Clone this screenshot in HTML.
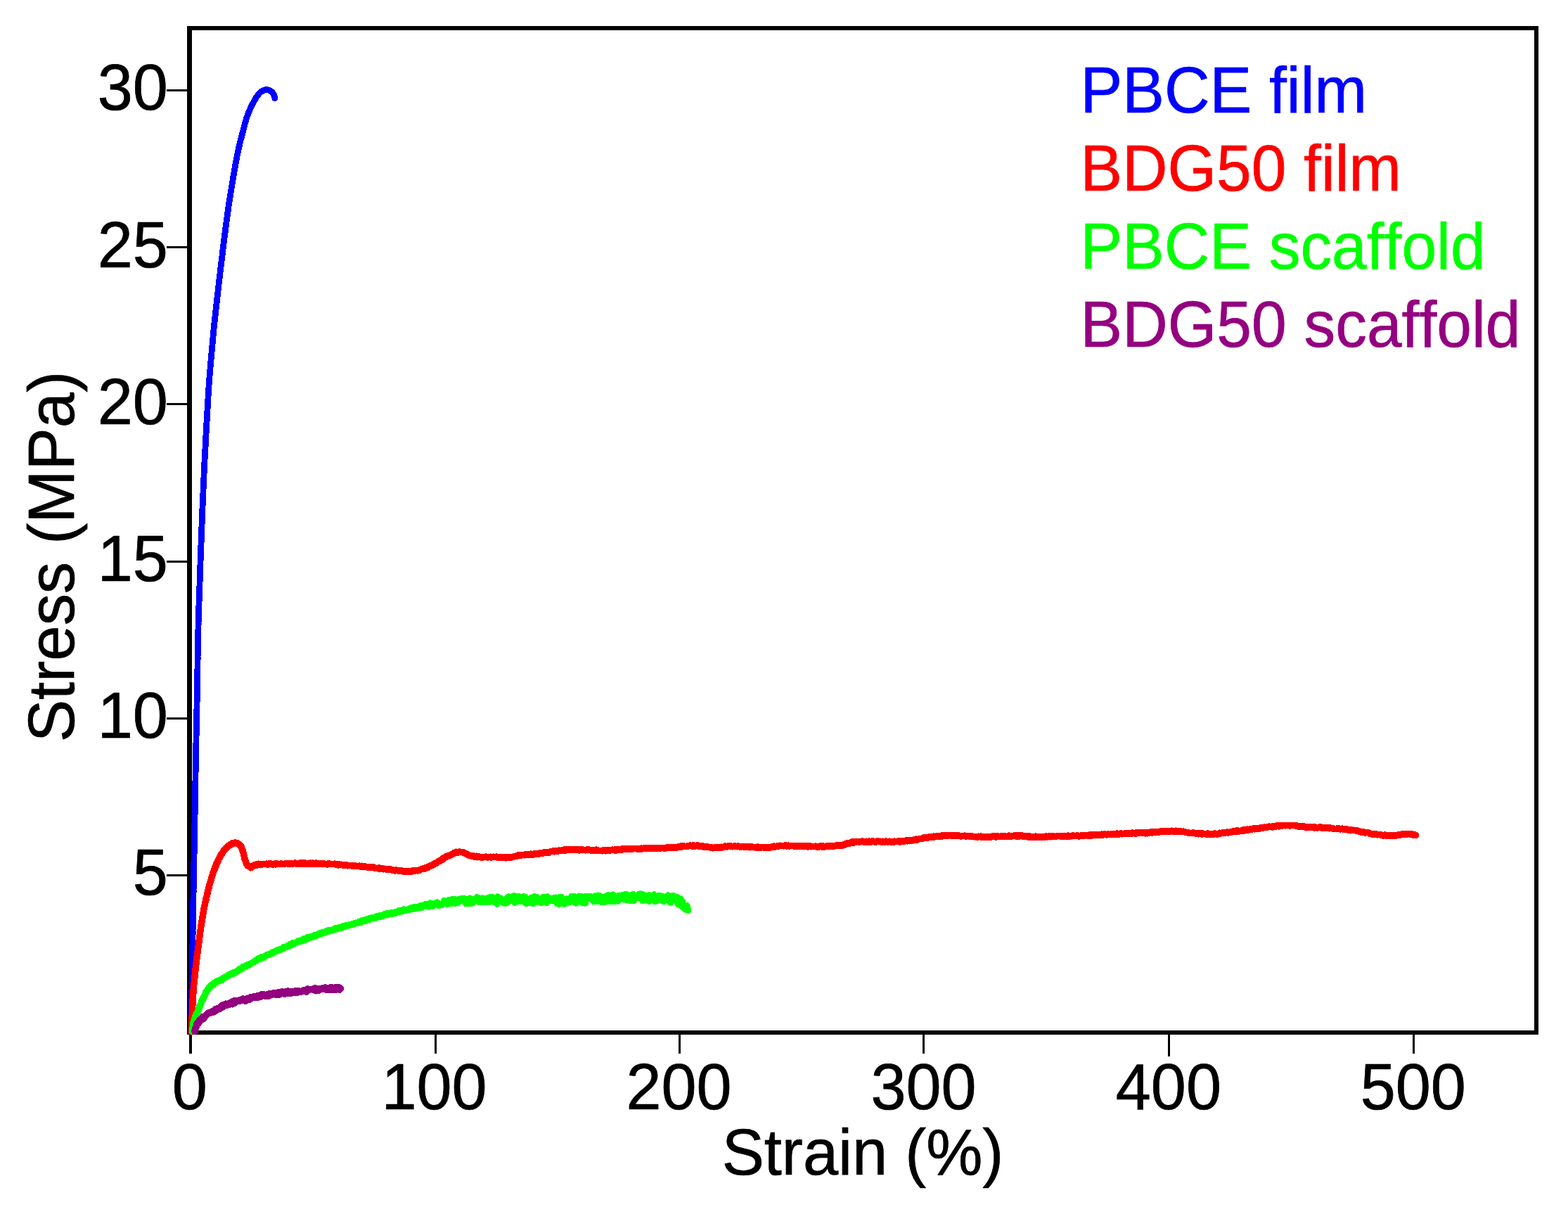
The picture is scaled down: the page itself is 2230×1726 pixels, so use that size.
<!DOCTYPE html>
<html lang="en"><head><meta charset="utf-8"><title>Stress-strain curves</title>
<style>
html,body{margin:0;padding:0;background:#fff;}
body{width:2230px;height:1726px;overflow:hidden;}
svg{display:block;}
text{font-family:"Liberation Sans",sans-serif;font-size:90px;stroke-width:0.7px;stroke-linejoin:round;font-kerning:none;font-variant-ligatures:none;white-space:pre;}
.c{fill:none;stroke-linejoin:round;stroke-linecap:round;}
</style></head><body>
<svg width="2230" height="1726" viewBox="0 0 2230 1726">
<rect x="0" y="0" width="2230" height="1726" fill="#fff"/>

<g shape-rendering="crispEdges">
<rect x="266" y="37" width="1922" height="1434" fill="#000"/>
<rect x="273" y="43" width="1909" height="1422" fill="#fff"/>
<rect x="237" y="1243" width="30" height="3" fill="#000"/>
<rect x="237" y="1020" width="30" height="3" fill="#000"/>
<rect x="237" y="797" width="30" height="3" fill="#000"/>
<rect x="237" y="573" width="30" height="3" fill="#000"/>
<rect x="237" y="350" width="30" height="3" fill="#000"/>
<rect x="237" y="127" width="30" height="3" fill="#000"/>
<rect x="269" y="1470" width="4" height="28" fill="#000"/>
<rect x="618" y="1470" width="3" height="28" fill="#000"/>
<rect x="965" y="1470" width="3" height="28" fill="#000"/>
<rect x="1312" y="1470" width="3" height="28" fill="#000"/>
<rect x="1661" y="1470" width="3" height="32" fill="#000"/>
<rect x="2009" y="1470" width="3" height="28" fill="#000"/>
</g>
<text transform="translate(188.75,1272.30) scale(1,1.04)" stroke="#000">5</text>
<text transform="translate(138.69,1049.10) scale(1,1.04)" stroke="#000">10</text>
<text transform="translate(138.69,825.90) scale(1,1.04)" stroke="#000">15</text>
<text transform="translate(138.69,602.70) scale(1,1.04)" stroke="#000">20</text>
<text transform="translate(138.69,379.50) scale(1,1.04)" stroke="#000">25</text>
<text transform="translate(138.69,156.30) scale(1,1.04)" stroke="#000">30</text>
<text transform="translate(244.87,1577.3) scale(1,1.04)" stroke="#000">0</text>
<text transform="translate(542.52,1577.3) scale(1,1.04)" stroke="#000">100</text>
<text transform="translate(890.52,1577.3) scale(1,1.04)" stroke="#000">200</text>
<text transform="translate(1238.52,1577.3) scale(1,1.04)" stroke="#000">300</text>
<text transform="translate(1586.82,1577.3) scale(1,1.04)" stroke="#000">400</text>
<text transform="translate(1934.72,1577.3) scale(1,1.04)" stroke="#000">500</text>
<text transform="translate(1026.71,1669.60) scale(1.0015,1.02)" stroke="#000">Strain (%)</text>
<text transform="translate(105.1,1055.11) rotate(-90) scale(1.0045,1.02)" stroke="#000">Stress (MPa)</text>
<text transform="translate(1536.56,159.80) scale(0.9939,1.02)" fill="#0000ff" stroke="#0000ff">PBCE film</text>
<text transform="translate(1536.58,271.00) scale(0.9920,1.02)" fill="#ff0000" stroke="#ff0000">BDG50 film</text>
<text transform="translate(1536.57,381.90) scale(0.9930,1.02)" fill="#00ff00" stroke="#00ff00">PBCE scaffold</text>
<text transform="translate(1536.57,493.00) scale(0.9933,1.02)" fill="#940080" stroke="#940080">BDG50 scaffold</text>
<g shape-rendering="crispEdges">
<path class="c" d="M271.8,1467.0 L271.8,1465.0 L271.9,1463.0 L271.9,1461.0 L271.9,1459.0 L272.0,1457.0 L272.0,1455.0 L272.1,1453.0 L272.1,1451.0 L272.1,1449.0 L272.2,1446.9 L272.2,1444.9 L272.2,1442.9 L272.3,1440.9 L272.3,1438.9 L272.3,1436.9 L272.4,1434.9 L272.4,1432.9 L272.5,1430.9 L272.5,1428.9 L272.5,1426.9 L272.6,1424.9 L272.6,1422.9 L272.6,1420.9 L272.7,1418.9 L272.7,1416.9 L272.7,1414.9 L272.8,1412.9 L272.8,1410.9 L272.8,1408.9 L272.9,1406.8 L272.9,1404.8 L273.0,1402.8 L273.0,1400.8 L273.0,1398.8 L273.1,1396.8 L273.1,1394.8 L273.1,1392.8 L273.1,1390.8 L273.2,1388.8 L273.2,1386.8 L273.2,1384.8 L273.3,1382.8 L273.3,1380.8 L273.3,1378.8 L273.4,1376.8 L273.4,1374.8 L273.4,1372.8 L273.5,1370.8 L273.5,1368.7 L273.5,1366.7 L273.5,1364.7 L273.6,1362.7 L273.6,1360.7 L273.6,1358.7 L273.7,1356.7 L273.7,1354.7 L273.7,1352.7 L273.7,1350.7 L273.8,1348.7 L273.8,1346.7 L273.8,1344.7 L273.9,1342.7 L273.9,1340.7 L273.9,1338.7 L273.9,1336.7 L274.0,1334.7 L274.0,1332.7 L274.0,1330.6 L274.1,1328.6 L274.1,1326.6 L274.1,1324.6 L274.1,1322.6 L274.2,1320.6 L274.2,1318.6 L274.2,1316.6 L274.3,1314.6 L274.3,1312.6 L274.3,1310.6 L274.4,1308.6 L274.4,1306.6 L274.4,1304.6 L274.5,1302.6 L274.5,1300.6 L274.5,1298.6 L274.6,1296.6 L274.6,1294.6 L274.6,1292.5 L274.7,1290.5 L274.7,1288.5 L274.7,1286.5 L274.8,1284.5 L274.8,1282.5 L274.8,1280.5 L274.9,1278.5 L274.9,1276.5 L274.9,1274.5 L275.0,1272.5 L275.0,1270.5 L275.1,1268.5 L275.1,1266.5 L275.1,1264.5 L275.2,1262.5 L275.2,1260.5 L275.2,1258.5 L275.3,1256.5 L275.3,1254.4 L275.3,1252.4 L275.4,1250.4 L275.4,1248.4 L275.5,1246.4 L275.5,1244.4 L275.5,1242.4 L275.6,1240.4 L275.6,1238.4 L275.7,1236.4 L275.7,1234.4 L275.7,1232.4 L275.8,1230.4 L275.8,1228.4 L275.8,1226.4 L275.9,1224.4 L275.9,1222.4 L276.0,1220.4 L276.0,1218.4 L276.0,1216.4 L276.1,1214.3 L276.1,1212.3 L276.1,1210.3 L276.2,1208.3 L276.2,1206.3 L276.3,1204.3 L276.3,1202.3 L276.3,1200.3 L276.4,1198.3 L276.4,1196.3 L276.4,1194.3 L276.5,1192.3 L276.5,1190.3 L276.6,1188.3 L276.6,1186.3 L276.6,1184.3 L276.7,1182.3 L276.7,1180.3 L276.7,1178.3 L276.8,1176.2 L276.8,1174.2 L276.8,1172.2 L276.9,1170.2 L276.9,1168.2 L276.9,1166.2 L277.0,1164.2 L277.0,1162.2 L277.0,1160.2 L277.1,1158.2 L277.1,1156.2 L277.1,1154.2 L277.2,1152.2 L277.2,1150.2 L277.2,1148.2 L277.3,1146.2 L277.3,1144.2 L277.3,1142.2 L277.4,1140.2 L277.4,1138.2 L277.4,1136.1 L277.5,1134.1 L277.5,1132.1 L277.5,1130.1 L277.6,1128.1 L277.6,1126.1 L277.6,1124.1 L277.7,1122.1 L277.7,1120.1 L277.7,1118.1 L277.8,1116.1 L277.8,1114.1 L277.8,1112.1 L277.9,1110.1 L277.9,1108.1 L277.9,1106.1 L278.0,1104.1 L278.0,1102.1 L278.0,1100.1 L278.1,1098.0 L278.1,1096.0 L278.1,1094.0 L278.2,1092.0 L278.2,1090.0 L278.3,1088.0 L278.3,1086.0 L278.3,1084.0 L278.4,1082.0 L278.4,1080.0 L278.4,1078.0 L278.5,1076.0 L278.5,1074.0 L278.6,1072.0 L278.6,1070.0 L278.6,1068.0 L278.7,1066.0 L278.7,1064.0 L278.7,1062.0 L278.8,1060.0 L278.8,1057.9 L278.9,1055.9 L278.9,1053.9 L278.9,1051.9 L279.0,1049.9 L279.0,1047.9 L279.1,1045.9 L279.1,1043.9 L279.2,1041.9 L279.2,1039.9 L279.2,1037.9 L279.3,1035.9 L279.3,1033.9 L279.4,1031.9 L279.4,1029.9 L279.4,1027.9 L279.5,1025.9 L279.5,1023.9 L279.6,1021.9 L279.6,1019.8 L279.6,1017.8 L279.7,1015.8 L279.7,1013.8 L279.8,1011.8 L279.8,1009.8 L279.9,1007.8 L279.9,1005.8 L279.9,1003.8 L280.0,1001.8 L280.0,999.8 L280.1,997.8 L280.1,995.8 L280.1,993.8 L280.2,991.8 L280.2,989.8 L280.3,987.8 L280.3,985.8 L280.3,983.8 L280.4,981.8 L280.4,979.7 L280.4,977.7 L280.5,975.7 L280.5,973.7 L280.5,971.7 L280.6,969.7 L280.6,967.7 L280.6,965.7 L280.7,963.7 L280.7,961.7 L280.7,959.7 L280.8,957.7 L280.8,955.7 L280.8,953.7 L280.9,951.7 L280.9,949.7 L280.9,947.7 L280.9,945.7 L281.0,943.7 L281.0,941.6 L281.0,939.6 L281.1,937.6 L281.1,935.6 L281.1,933.6 L281.2,931.6 L281.2,929.6 L281.2,927.6 L281.3,925.6 L281.3,923.6 L281.3,921.6 L281.4,919.6 L281.4,917.6 L281.4,915.6 L281.5,913.6 L281.5,911.6 L281.5,909.6 L281.6,907.6 L281.6,905.6 L281.7,903.6 L281.7,901.5 L281.8,899.5 L281.8,897.5 L281.9,895.5 L281.9,893.5 L282.0,891.5 L282.0,889.5 L282.1,887.5 L282.1,885.5 L282.2,883.5 L282.3,881.5 L282.3,879.5 L282.4,877.5 L282.4,875.5 L282.5,873.5 L282.6,871.5 L282.6,869.5 L282.7,867.5 L282.8,865.5 L282.8,863.5 L282.9,861.5 L283.0,859.4 L283.0,857.4 L283.1,855.4 L283.2,853.4 L283.2,851.4 L283.3,849.4 L283.4,847.4 L283.4,845.4 L283.5,843.4 L283.6,841.4 L283.7,839.4 L283.7,837.4 L283.8,835.4 L283.9,833.4 L283.9,831.4 L284.0,829.4 L284.1,827.4 L284.1,825.4 L284.2,823.4 L284.3,821.4 L284.3,819.4 L284.4,817.4 L284.5,815.4 L284.5,813.4 L284.6,811.3 L284.7,809.3 L284.8,807.3 L284.8,805.3 L284.9,803.3 L285.0,801.3 L285.0,799.3 L285.1,797.3 L285.2,795.3 L285.3,793.3 L285.3,791.3 L285.4,789.3 L285.5,787.3 L285.6,785.3 L285.6,783.3 L285.7,781.3 L285.8,779.3 L285.8,777.3 L285.9,775.3 L286.0,773.3 L286.1,771.3 L286.1,769.3 L286.2,767.3 L286.3,765.3 L286.4,763.2 L286.4,761.2 L286.5,759.2 L286.6,757.2 L286.7,755.2 L286.7,753.2 L286.8,751.2 L286.9,749.2 L287.0,747.2 L287.1,745.2 L287.1,743.2 L287.2,741.2 L287.3,739.2 L287.4,737.2 L287.4,735.2 L287.5,733.2 L287.6,731.2 L287.7,729.2 L287.8,727.2 L287.8,725.2 L287.9,723.2 L288.0,721.2 L288.1,719.2 L288.2,717.2 L288.3,715.2 L288.4,713.1 L288.4,711.1 L288.5,709.1 L288.6,707.1 L288.7,705.1 L288.8,703.1 L288.9,701.1 L289.0,699.1 L289.0,697.1 L289.1,695.1 L289.2,693.1 L289.3,691.1 L289.4,689.1 L289.5,687.1 L289.6,685.1 L289.7,683.1 L289.8,681.1 L289.9,679.1 L290.0,677.1 L290.0,675.1 L290.1,673.1 L290.2,671.1 L290.3,669.1 L290.4,667.1 L290.5,665.1 L290.6,663.1 L290.7,661.1 L290.8,659.1 L290.9,657.1 L291.0,655.1 L291.1,653.0 L291.2,651.0 L291.3,649.0 L291.4,647.0 L291.5,645.0 L291.6,643.0 L291.7,641.0 L291.8,639.0 L292.0,637.0 L292.1,635.0 L292.2,633.0 L292.3,631.0 L292.4,629.0 L292.5,627.0 L292.6,625.0 L292.7,623.0 L292.8,621.0 L292.9,619.0 L293.0,617.0 L293.2,615.0 L293.3,613.0 L293.4,611.0 L293.5,609.0 L293.6,607.0 L293.7,605.0 L293.8,603.0 L293.9,601.0 L294.1,599.0 L294.2,597.0 L294.3,595.0 L294.4,593.0 L294.5,591.0 L294.6,589.0 L294.7,587.0 L294.8,585.0 L295.0,583.0 L295.1,581.0 L295.2,579.0 L295.3,577.0 L295.4,575.0 L295.5,572.9 L295.6,570.9 L295.7,568.9 L295.9,566.9 L296.0,564.9 L296.1,562.9 L296.2,560.9 L296.3,558.9 L296.5,556.9 L296.6,554.9 L296.7,552.9 L296.9,550.9 L297.0,548.9 L297.1,546.9 L297.3,544.9 L297.4,542.9 L297.6,540.9 L297.7,538.9 L297.9,536.9 L298.0,534.9 L298.2,532.9 L298.4,530.9 L298.5,528.9 L298.7,526.9 L298.9,524.9 L299.0,522.9 L299.2,520.9 L299.4,518.9 L299.6,516.9 L299.8,514.9 L299.9,513.0 L300.1,511.0 L300.3,509.0 L300.5,507.0 L300.7,505.0 L300.8,503.0 L301.0,501.0 L301.2,499.0 L301.4,497.0 L301.5,495.0 L301.7,493.0 L301.9,491.0 L302.1,489.0 L302.2,487.0 L302.4,485.0 L302.6,483.0 L302.8,481.0 L303.0,479.0 L303.2,477.0 L303.3,475.0 L303.5,473.0 L303.7,471.0 L303.9,469.0 L304.1,467.0 L304.3,465.0 L304.5,463.0 L304.7,461.0 L305.0,459.0 L305.2,457.0 L305.4,455.1 L305.6,453.1 L305.8,451.1 L306.0,449.1 L306.3,447.1 L306.5,445.1 L306.7,443.1 L306.9,441.1 L307.2,439.1 L307.4,437.1 L307.6,435.1 L307.8,433.1 L308.1,431.1 L308.3,429.1 L308.5,427.1 L308.7,425.2 L309.0,423.2 L309.2,421.2 L309.4,419.2 L309.6,417.2 L309.9,415.2 L310.1,413.2 L310.3,411.2 L310.5,409.2 L310.8,407.2 L311.0,405.2 L311.2,403.2 L311.5,401.2 L311.7,399.3 L311.9,397.3 L312.2,395.3 L312.4,393.3 L312.6,391.3 L312.9,389.3 L313.1,387.3 L313.3,385.3 L313.6,383.3 L313.8,381.3 L314.0,379.3 L314.3,377.3 L314.5,375.4 L314.7,373.4 L315.0,371.4 L315.2,369.4 L315.5,367.4 L315.7,365.4 L316.0,363.4 L316.2,361.4 L316.5,359.4 L316.7,357.4 L316.9,355.4 L317.2,353.5 L317.4,351.5 L317.7,349.5 L317.9,347.5 L318.2,345.5 L318.4,343.5 L318.7,341.5 L318.9,339.5 L319.2,337.5 L319.4,335.5 L319.7,333.6 L319.9,331.6 L320.2,329.6 L320.4,327.6 L320.7,325.6 L320.9,323.6 L321.2,321.6 L321.5,319.6 L321.7,317.6 L322.0,315.7 L322.3,313.7 L322.5,311.7 L322.8,309.7 L323.1,307.7 L323.3,305.7 L323.6,303.7 L323.9,301.7 L324.2,299.8 L324.5,297.8 L324.7,295.8 L325.0,293.8 L325.3,291.8 L325.6,289.8 L325.9,287.9 L326.2,285.9 L326.5,283.9 L326.8,281.9 L327.2,279.9 L327.5,278.0 L327.8,276.0 L328.1,274.0 L328.5,272.0 L328.8,270.0 L329.1,268.1 L329.4,266.1 L329.8,264.1 L330.1,262.1 L330.4,260.1 L330.7,258.2 L331.1,256.2 L331.4,254.2 L331.7,252.2 L332.0,250.2 L332.4,248.3 L332.7,246.3 L333.0,244.3 L333.4,242.3 L333.7,240.4 L334.1,238.4 L334.4,236.4 L334.8,234.4 L335.2,232.5 L335.5,230.5 L335.9,228.5 L336.3,226.6 L336.6,224.6 L337.0,222.6 L337.4,220.6 L337.8,218.7 L338.2,216.7 L338.6,214.8 L339.0,212.8 L339.5,210.8 L339.9,208.9 L340.4,206.9 L340.9,205.0 L341.3,203.0 L341.8,201.1 L342.3,199.1 L342.8,197.2 L343.3,195.3 L343.8,193.3 L344.3,191.4 L344.8,189.4 L345.3,187.5 L345.8,185.5 L346.3,183.6 L346.8,181.7 L347.3,179.7 L347.8,177.8 L348.3,175.8 L348.8,173.9 L349.4,171.9 L350.0,170.0 L350.6,168.1 L351.2,166.2 L351.9,164.4 L352.6,162.5 L353.3,160.6 L354.1,158.7 L354.9,156.9 L355.7,155.0 L356.5,153.2 L357.4,151.4 L358.3,149.6 L359.2,147.8 L360.2,146.1 L361.1,144.3 L362.1,142.5 L363.0,140.7 L364.1,139.0 L365.2,137.3 L366.4,135.7 L367.6,134.2 L369.0,132.7 L370.4,131.2 L372.0,129.9 L373.7,129.0 L375.6,128.2 L377.6,127.7 L379.5,127.6 L381.5,127.9 L383.5,128.6 L385.2,129.5 L386.8,130.8 L388.1,132.3 L389.1,134.1 L389.9,135.9 L390.4,137.8 L390.9,139.8" stroke="#0000ff" stroke-width="8.8"/>
<path class="c" d="M272.4,1467.0 L272.5,1466.2 L272.5,1464.5 L272.6,1463.7 L272.6,1462.9 L272.6,1461.1 L272.7,1459.8 L272.7,1458.0 L272.8,1457.1 L272.8,1456.2 L272.9,1455.2 L272.9,1454.2 L273.0,1452.4 L273.0,1450.8 L273.0,1449.9 L273.1,1449.6 L273.1,1447.4 L273.2,1446.5 L273.2,1446.0 L273.2,1443.5 L273.3,1443.1 L273.3,1442.4 L273.4,1440.2 L273.4,1439.5 L273.4,1438.8 L273.5,1436.5 L273.5,1435.8 L273.6,1434.9 L273.6,1433.6 L273.7,1432.1 L273.7,1430.6 L273.8,1429.8 L273.8,1428.4 L273.9,1427.4 L273.9,1426.0 L274.0,1425.5 L274.1,1424.2 L274.1,1422.3 L274.2,1421.5 L274.3,1419.9 L274.3,1418.9 L274.4,1417.6 L274.5,1416.8 L274.6,1415.2 L274.6,1414.1 L274.7,1413.3 L274.8,1411.7 L274.9,1411.2 L275.0,1409.0 L275.1,1408.6 L275.2,1406.9 L275.3,1405.7 L275.4,1404.8 L275.5,1403.5 L275.6,1402.1 L275.7,1400.3 L275.8,1399.3 L276.0,1398.9 L276.1,1397.5 L276.2,1396.5 L276.3,1395.7 L276.4,1394.1 L276.5,1392.1 L276.7,1391.2 L276.8,1390.4 L276.9,1388.7 L277.0,1388.5 L277.2,1387.3 L277.3,1386.0 L277.4,1384.3 L277.5,1383.6 L277.7,1381.4 L277.8,1380.5 L277.9,1379.5 L278.1,1378.7 L278.2,1377.1 L278.3,1375.4 L278.5,1374.5 L278.6,1373.3 L278.7,1372.1 L278.9,1370.7 L279.0,1369.9 L279.1,1368.7 L279.3,1368.0 L279.4,1366.8 L279.6,1365.3 L279.7,1364.0 L279.9,1363.2 L280.0,1362.2 L280.1,1360.7 L280.3,1359.7 L280.4,1358.7 L280.6,1356.2 L280.7,1356.2 L280.9,1354.2 L281.0,1353.3 L281.2,1352.5 L281.3,1351.2 L281.5,1349.2 L281.7,1348.8 L281.8,1346.7 L282.0,1346.0 L282.1,1345.4 L282.3,1343.7 L282.4,1342.7 L282.6,1341.7 L282.7,1340.7 L282.9,1339.4 L283.1,1337.1 L283.2,1336.5 L283.4,1335.4 L283.5,1333.6 L283.7,1333.1 L283.8,1332.0 L284.0,1331.1 L284.2,1330.1 L284.3,1327.8 L284.5,1326.7 L284.6,1326.1 L284.8,1324.2 L284.9,1323.1 L285.1,1322.4 L285.3,1320.7 L285.4,1320.4 L285.6,1319.3 L285.8,1316.9 L285.9,1316.4 L286.1,1315.6 L286.3,1314.7 L286.5,1312.5 L286.7,1311.2 L286.9,1311.0 L287.1,1309.9 L287.3,1307.7 L287.5,1306.8 L287.7,1306.0 L287.9,1305.0 L288.1,1302.9 L288.3,1302.4 L288.5,1301.4 L288.7,1299.9 L288.9,1298.2 L289.1,1296.8 L289.4,1296.0 L289.6,1295.5 L289.8,1293.3 L290.0,1292.0 L290.3,1291.4 L290.5,1289.8 L290.7,1288.7 L291.0,1287.4 L291.2,1286.9 L291.5,1285.9 L291.7,1284.4 L291.9,1282.8 L292.2,1281.9 L292.5,1281.1 L292.7,1280.4 L293.0,1279.3 L293.2,1277.1 L293.5,1275.6 L293.8,1275.6 L294.0,1274.5 L294.3,1272.7 L294.6,1272.0 L294.9,1270.9 L295.1,1269.4 L295.4,1268.6 L295.7,1266.3 L296.0,1265.4 L296.3,1264.3 L296.6,1262.9 L296.9,1262.8 L297.2,1260.5 L297.5,1260.2 L297.8,1258.2 L298.1,1257.4 L298.5,1256.4 L298.8,1254.9 L299.1,1254.2 L299.4,1253.1 L299.8,1251.6 L300.1,1251.0 L300.4,1249.1 L300.8,1248.0 L301.1,1247.0 L301.5,1245.9 L301.8,1244.5 L302.2,1244.4 L302.6,1243.1 L303.0,1241.0 L303.4,1240.2 L303.8,1238.9 L304.2,1238.1 L304.6,1236.7 L305.0,1235.9 L305.4,1235.3 L305.8,1233.5 L306.3,1232.7 L306.7,1231.5 L307.2,1230.6 L307.6,1228.5 L308.1,1228.4 L308.5,1227.6 L309.0,1226.0 L309.5,1224.4 L310.0,1223.9 L310.6,1222.9 L311.1,1221.7 L311.7,1220.0 L312.3,1220.1 L312.8,1219.0 L313.4,1217.2 L314.0,1216.3 L314.6,1214.5 L315.2,1214.8 L315.8,1213.5 L316.5,1212.3 L317.2,1211.4 L317.9,1209.7 L318.6,1208.9 L319.4,1207.9 L320.1,1207.5 L321.0,1205.9 L321.8,1206.1 L322.7,1204.7 L323.5,1203.8 L324.5,1202.5 L325.4,1202.6 L326.4,1202.0 L327.4,1201.1 L328.4,1200.0 L329.5,1200.2 L330.6,1198.8 L331.8,1199.3 L333.0,1198.6 L334.1,1198.0 L335.2,1198.4 L336.4,1198.8 L337.6,1198.7 L338.7,1200.1 L339.8,1200.2 L340.7,1201.5 L341.5,1202.2 L342.2,1202.1 L342.8,1203.9 L343.3,1204.6 L343.8,1206.4 L344.3,1207.3 L344.7,1208.3 L345.1,1210.1 L345.6,1210.0 L345.9,1211.9 L346.2,1212.7 L346.5,1213.5 L346.8,1215.6 L347.0,1216.6 L347.3,1218.2 L347.5,1219.0 L347.8,1219.8 L348.2,1221.8 L348.5,1221.8 L348.9,1222.8 L349.3,1224.9 L349.7,1225.6 L350.1,1226.8 L350.6,1228.6 L351.2,1228.9 L351.9,1230.6 L352.7,1231.1 L353.6,1231.6 L354.6,1232.0 L355.6,1232.8 L356.7,1233.8 L357.7,1232.6 L358.8,1231.5 L359.9,1230.9 L361.0,1231.2 L362.1,1229.7 L363.2,1230.2 L364.4,1229.0 L365.6,1229.9 L366.7,1229.1 L367.9,1228.3 L369.1,1229.5 L370.3,1228.7 L371.5,1229.3 L372.8,1229.0 L374.0,1228.4 L375.2,1228.4 L376.4,1228.5 L377.6,1228.4 L378.8,1228.2 L380.0,1228.2 L381.2,1229.4 L382.4,1228.1 L383.6,1228.7 L384.8,1228.1 L386.0,1228.1 L387.2,1228.9 L388.4,1229.1 L389.6,1228.3 L390.8,1227.7 L392.0,1229.0 L393.2,1227.6 L394.4,1228.1 L395.6,1228.2 L396.8,1228.7 L398.0,1228.6 L399.2,1228.2 L400.4,1227.9 L401.6,1228.5 L402.8,1228.5 L404.0,1228.5 L405.2,1228.2 L406.4,1227.3 L407.6,1227.6 L408.8,1227.8 L410.0,1227.8 L411.2,1228.2 L412.4,1227.4 L413.6,1228.0 L414.8,1227.5 L416.0,1228.1 L417.2,1227.3 L418.4,1227.6 L419.6,1227.1 L420.8,1227.2 L422.0,1228.2 L423.2,1227.4 L424.4,1228.2 L425.6,1227.6 L426.8,1227.0 L428.0,1228.0 L429.2,1227.0 L430.4,1228.1 L431.6,1226.9 L432.8,1227.8 L434.0,1227.1 L435.2,1227.4 L436.4,1228.2 L437.6,1227.6 L438.8,1227.8 L440.0,1228.0 L441.2,1227.1 L442.4,1228.1 L443.6,1228.3 L444.8,1227.2 L446.0,1227.8 L447.2,1227.4 L448.4,1228.1 L449.6,1227.1 L450.8,1227.8 L452.0,1228.3 L453.2,1228.2 L454.4,1227.4 L455.6,1228.4 L456.8,1227.7 L458.0,1228.5 L459.2,1228.1 L460.4,1227.7 L461.6,1228.5 L462.8,1228.7 L464.0,1228.6 L465.2,1229.0 L466.4,1228.1 L467.6,1228.1 L468.8,1228.0 L470.0,1228.7 L471.2,1228.5 L472.4,1228.5 L473.6,1228.7 L474.8,1228.5 L476.0,1228.2 L477.2,1229.0 L478.4,1228.8 L479.6,1229.1 L480.8,1229.8 L482.0,1228.9 L483.2,1229.6 L484.4,1229.7 L485.6,1229.2 L486.8,1229.6 L488.0,1230.4 L489.2,1229.6 L490.4,1230.2 L491.6,1230.5 L492.8,1229.9 L494.0,1230.8 L495.2,1230.4 L496.4,1230.3 L497.6,1230.7 L498.8,1230.4 L500.0,1230.9 L501.1,1230.4 L502.3,1231.4 L503.5,1230.9 L504.7,1230.6 L505.9,1231.0 L507.1,1231.7 L508.3,1231.7 L509.5,1231.3 L510.7,1231.2 L511.9,1231.3 L513.1,1232.3 L514.3,1231.2 L515.5,1232.4 L516.7,1232.4 L517.9,1231.6 L519.1,1231.9 L520.3,1232.3 L521.5,1232.8 L522.7,1233.1 L523.9,1233.3 L525.1,1232.4 L526.3,1232.4 L527.5,1233.0 L528.7,1233.2 L529.9,1233.5 L531.0,1232.8 L532.2,1233.7 L533.4,1234.3 L534.6,1234.4 L535.8,1234.6 L537.0,1234.7 L538.2,1234.9 L539.4,1233.8 L540.6,1235.1 L541.8,1234.4 L543.0,1234.6 L544.2,1234.9 L545.4,1235.8 L546.5,1235.4 L547.7,1235.2 L548.9,1235.4 L550.1,1236.3 L551.3,1236.4 L552.5,1235.6 L553.7,1235.9 L554.9,1236.3 L556.1,1236.2 L557.3,1236.9 L558.4,1236.6 L559.6,1237.2 L560.8,1237.9 L562.0,1237.9 L563.2,1237.0 L564.4,1237.3 L565.6,1237.7 L566.8,1238.1 L568.0,1237.9 L569.2,1237.8 L570.4,1238.0 L571.6,1237.9 L572.8,1238.9 L574.0,1238.8 L575.2,1238.5 L576.4,1239.0 L577.6,1238.8 L578.8,1238.9 L580.0,1238.7 L581.2,1238.9 L582.4,1239.6 L583.6,1239.3 L584.8,1239.3 L586.0,1238.2 L587.2,1238.6 L588.4,1238.3 L589.6,1237.7 L590.7,1238.0 L591.9,1237.3 L593.1,1237.3 L594.3,1237.9 L595.5,1237.5 L596.7,1237.2 L597.8,1236.1 L599.0,1235.9 L600.1,1235.3 L601.3,1235.1 L602.4,1234.7 L603.5,1235.5 L604.7,1235.0 L605.8,1233.6 L606.9,1233.2 L608.0,1233.7 L609.1,1232.7 L610.2,1231.9 L611.3,1231.6 L612.4,1230.8 L613.5,1230.7 L614.6,1230.4 L615.6,1229.5 L616.7,1229.4 L617.7,1227.8 L618.8,1227.9 L619.8,1227.8 L620.8,1226.0 L621.9,1225.9 L622.9,1225.5 L623.9,1224.4 L624.9,1224.7 L626.0,1223.4 L627.0,1222.8 L628.1,1222.7 L629.1,1220.9 L630.1,1221.5 L631.2,1219.8 L632.2,1219.6 L633.2,1219.1 L634.3,1218.5 L635.3,1217.2 L636.4,1217.0 L637.4,1216.5 L638.5,1216.8 L639.5,1216.2 L640.6,1215.2 L641.7,1215.3 L642.9,1214.7 L644.0,1213.6 L645.2,1212.8 L646.3,1213.0 L647.5,1212.1 L648.7,1211.3 L649.9,1212.3 L651.1,1212.0 L652.2,1211.2 L653.4,1211.2 L654.6,1211.2 L655.7,1211.7 L656.8,1211.3 L657.9,1211.9 L659.0,1211.9 L660.1,1212.5 L661.2,1213.5 L662.2,1213.6 L663.3,1213.9 L664.4,1214.9 L665.6,1215.8 L666.7,1215.5 L667.9,1216.7 L669.0,1216.7 L670.2,1216.9 L671.4,1217.5 L672.6,1216.6 L673.8,1217.0 L674.9,1218.2 L676.1,1218.4 L677.3,1217.4 L678.5,1218.6 L679.7,1217.7 L680.9,1218.0 L682.1,1218.1 L683.3,1218.4 L684.5,1218.6 L685.7,1219.4 L686.9,1218.8 L688.1,1218.4 L689.3,1218.6 L690.5,1218.2 L691.7,1218.2 L692.9,1218.8 L694.1,1218.9 L695.3,1218.5 L696.5,1218.6 L697.7,1218.2 L698.9,1219.0 L700.1,1218.6 L701.3,1218.2 L702.5,1218.7 L703.7,1218.3 L704.9,1218.4 L706.1,1218.2 L707.3,1219.1 L708.5,1218.5 L709.7,1219.5 L710.9,1218.8 L712.1,1218.5 L713.3,1219.3 L714.6,1219.5 L715.8,1219.7 L717.0,1218.7 L718.2,1219.7 L719.4,1219.8 L720.6,1219.0 L721.8,1219.2 L722.9,1219.4 L724.1,1218.8 L725.3,1219.5 L726.5,1219.1 L727.7,1219.1 L728.9,1218.3 L730.0,1218.2 L731.2,1217.5 L732.4,1217.4 L733.6,1217.7 L734.7,1217.7 L735.9,1216.3 L737.1,1215.9 L738.3,1215.7 L739.4,1216.0 L740.6,1216.3 L741.8,1215.3 L743.0,1215.5 L744.2,1215.5 L745.4,1215.8 L746.6,1214.8 L747.8,1214.5 L749.0,1215.1 L750.2,1214.8 L751.4,1214.6 L752.6,1215.2 L753.8,1215.1 L755.0,1214.2 L756.2,1214.7 L757.4,1215.0 L758.6,1215.1 L759.8,1213.7 L761.0,1214.8 L762.2,1213.6 L763.4,1214.3 L764.6,1214.1 L765.8,1214.4 L766.9,1213.8 L768.1,1212.9 L769.3,1213.5 L770.5,1212.8 L771.7,1213.4 L772.9,1212.1 L774.1,1212.3 L775.3,1212.6 L776.4,1211.7 L777.6,1212.2 L778.8,1212.1 L780.0,1211.9 L781.2,1212.0 L782.4,1211.1 L783.6,1210.6 L784.8,1210.6 L785.9,1210.6 L787.1,1209.9 L788.3,1210.7 L789.5,1209.6 L790.7,1209.4 L791.9,1210.5 L793.1,1210.2 L794.3,1209.2 L795.5,1209.2 L796.7,1209.7 L797.8,1209.3 L799.0,1208.6 L800.2,1208.7 L801.4,1209.2 L802.6,1207.9 L803.8,1209.1 L805.0,1208.5 L806.2,1207.8 L807.4,1208.6 L808.6,1207.6 L809.8,1208.0 L811.0,1208.2 L812.2,1207.7 L813.4,1208.6 L814.6,1208.4 L815.8,1207.6 L817.0,1207.6 L818.2,1207.5 L819.4,1208.2 L820.6,1207.7 L821.8,1208.2 L823.0,1208.7 L824.2,1208.8 L825.4,1207.7 L826.6,1208.1 L827.8,1208.2 L829.0,1208.2 L830.2,1208.3 L831.4,1208.3 L832.6,1208.8 L833.8,1208.2 L835.0,1208.2 L836.2,1208.3 L837.4,1208.0 L838.6,1208.7 L839.8,1208.5 L841.0,1209.2 L842.2,1209.1 L843.4,1208.4 L844.6,1208.4 L845.8,1209.2 L847.0,1209.0 L848.2,1208.2 L849.4,1209.2 L850.6,1208.9 L851.8,1209.5 L853.0,1209.4 L854.3,1209.7 L855.5,1209.4 L856.7,1209.8 L857.9,1208.9 L859.1,1209.0 L860.3,1208.6 L861.5,1209.7 L862.7,1208.7 L863.8,1209.3 L865.0,1209.2 L866.2,1209.5 L867.4,1208.9 L868.6,1208.5 L869.8,1208.7 L871.0,1208.2 L872.2,1208.4 L873.4,1208.8 L874.6,1207.9 L875.8,1209.1 L877.0,1208.3 L878.2,1207.9 L879.4,1208.5 L880.6,1207.4 L881.8,1207.6 L883.0,1208.3 L884.2,1207.2 L885.4,1207.8 L886.6,1206.8 L887.8,1207.3 L889.0,1207.4 L890.2,1206.7 L891.4,1206.8 L892.6,1207.1 L893.8,1207.1 L895.0,1206.4 L896.2,1206.7 L897.4,1207.5 L898.6,1206.5 L899.8,1207.1 L901.0,1206.3 L902.2,1206.6 L903.4,1206.6 L904.6,1206.7 L905.8,1206.8 L907.0,1206.9 L908.2,1206.8 L909.4,1206.9 L910.6,1207.0 L911.8,1206.2 L913.0,1206.8 L914.2,1206.4 L915.4,1206.0 L916.6,1205.8 L917.8,1206.6 L919.0,1206.4 L920.2,1205.6 L921.4,1206.3 L922.6,1205.5 L923.8,1205.9 L925.0,1206.2 L926.2,1206.2 L927.4,1205.5 L928.6,1205.3 L929.8,1206.0 L931.0,1206.3 L932.2,1206.3 L933.4,1205.7 L934.6,1205.9 L935.8,1206.1 L937.0,1206.3 L938.2,1205.7 L939.4,1206.3 L940.6,1205.4 L941.8,1205.3 L943.0,1205.4 L944.2,1205.9 L945.4,1206.1 L946.6,1205.5 L947.8,1205.8 L949.0,1204.9 L950.2,1205.4 L951.4,1205.2 L952.6,1205.2 L953.8,1204.7 L955.0,1205.3 L956.2,1205.3 L957.4,1205.1 L958.6,1205.2 L959.8,1204.7 L961.0,1205.1 L962.2,1204.6 L963.4,1204.9 L964.6,1204.1 L965.8,1204.3 L966.9,1203.4 L968.1,1203.1 L969.3,1204.2 L970.5,1203.2 L971.7,1202.6 L972.9,1203.3 L974.1,1203.6 L975.3,1203.3 L976.5,1203.5 L977.7,1203.3 L978.9,1202.6 L980.1,1202.3 L981.3,1202.0 L982.5,1202.3 L983.7,1202.7 L984.9,1203.1 L986.1,1201.8 L987.3,1203.0 L988.5,1202.9 L989.7,1202.8 L990.9,1202.1 L992.1,1202.0 L993.3,1203.0 L994.5,1203.0 L995.7,1202.7 L996.9,1202.7 L998.1,1202.4 L999.3,1203.8 L1000.5,1203.7 L1001.7,1204.1 L1002.9,1204.0 L1004.1,1203.7 L1005.2,1204.5 L1006.4,1203.8 L1007.6,1204.7 L1008.8,1204.3 L1010.0,1204.7 L1011.2,1205.6 L1012.4,1205.1 L1013.6,1205.8 L1014.7,1205.5 L1015.9,1205.1 L1017.1,1205.0 L1018.3,1204.6 L1019.5,1205.3 L1020.7,1205.5 L1021.9,1204.5 L1023.1,1204.8 L1024.3,1205.3 L1025.5,1204.3 L1026.7,1204.9 L1027.9,1204.6 L1029.1,1204.0 L1030.3,1204.0 L1031.5,1203.1 L1032.7,1203.6 L1033.9,1203.9 L1035.1,1203.1 L1036.3,1202.8 L1037.5,1202.7 L1038.7,1202.9 L1039.9,1203.0 L1041.1,1203.8 L1042.3,1203.3 L1043.5,1203.4 L1044.7,1203.1 L1045.9,1203.1 L1047.1,1203.5 L1048.3,1203.8 L1049.5,1203.0 L1050.7,1203.4 L1051.9,1203.8 L1053.1,1204.2 L1054.3,1203.3 L1055.5,1203.5 L1056.7,1203.8 L1057.9,1203.3 L1059.1,1204.0 L1060.3,1204.6 L1061.5,1203.6 L1062.7,1204.0 L1063.9,1203.5 L1065.1,1204.1 L1066.3,1204.8 L1067.5,1204.2 L1068.7,1203.8 L1069.9,1204.0 L1071.1,1204.5 L1072.3,1204.8 L1073.5,1204.3 L1074.7,1204.5 L1075.9,1205.0 L1077.1,1204.1 L1078.3,1205.3 L1079.5,1204.7 L1080.7,1204.6 L1081.9,1205.3 L1083.1,1204.6 L1084.3,1204.5 L1085.5,1204.7 L1086.7,1205.2 L1087.9,1204.4 L1089.1,1204.9 L1090.3,1204.6 L1091.5,1205.0 L1092.7,1204.3 L1093.9,1205.1 L1095.1,1205.2 L1096.3,1204.2 L1097.5,1204.1 L1098.7,1204.2 L1099.9,1204.3 L1101.0,1203.1 L1102.2,1203.8 L1103.4,1203.8 L1104.6,1203.6 L1105.8,1202.9 L1107.0,1203.3 L1108.2,1202.8 L1109.4,1202.2 L1110.6,1202.3 L1111.8,1202.6 L1113.0,1202.5 L1114.2,1202.8 L1115.4,1202.7 L1116.6,1202.0 L1117.8,1202.2 L1119.0,1202.8 L1120.2,1202.4 L1121.4,1202.1 L1122.6,1203.1 L1123.8,1202.4 L1125.0,1202.3 L1126.2,1202.6 L1127.4,1202.4 L1128.6,1202.4 L1129.8,1203.0 L1131.0,1203.2 L1132.2,1202.7 L1133.4,1202.4 L1134.6,1202.9 L1135.8,1202.8 L1137.0,1202.9 L1138.2,1202.6 L1139.4,1203.4 L1140.6,1202.6 L1141.8,1202.4 L1143.0,1203.4 L1144.2,1203.5 L1145.4,1202.8 L1146.6,1202.8 L1147.8,1203.4 L1149.0,1203.9 L1150.2,1203.0 L1151.4,1203.4 L1152.6,1203.1 L1153.8,1203.8 L1155.0,1203.4 L1156.2,1203.3 L1157.4,1203.7 L1158.6,1203.6 L1159.8,1203.1 L1161.0,1203.4 L1162.2,1204.2 L1163.4,1204.0 L1164.6,1203.6 L1165.8,1203.8 L1167.0,1203.0 L1168.2,1203.4 L1169.4,1204.0 L1170.6,1203.0 L1171.8,1204.1 L1173.0,1203.9 L1174.2,1203.6 L1175.4,1203.2 L1176.7,1202.8 L1177.9,1203.0 L1179.1,1203.6 L1180.3,1203.1 L1181.5,1203.6 L1182.7,1202.7 L1183.9,1203.5 L1185.1,1203.5 L1186.3,1203.3 L1187.5,1202.4 L1188.7,1202.4 L1189.9,1202.0 L1191.1,1201.9 L1192.3,1202.7 L1193.5,1202.2 L1194.7,1202.4 L1195.8,1201.6 L1197.0,1201.4 L1198.2,1202.0 L1199.4,1201.9 L1200.5,1200.3 L1201.7,1201.0 L1202.8,1200.3 L1204.0,1199.2 L1205.1,1199.7 L1206.3,1198.8 L1207.4,1198.6 L1208.6,1199.1 L1209.7,1198.5 L1210.9,1197.3 L1212.1,1198.0 L1213.3,1196.8 L1214.4,1197.9 L1215.6,1197.3 L1216.8,1197.2 L1218.0,1196.3 L1219.2,1196.3 L1220.4,1196.8 L1221.6,1196.6 L1222.8,1197.1 L1224.0,1196.3 L1225.2,1196.5 L1226.4,1196.1 L1227.6,1196.6 L1228.8,1197.2 L1230.1,1196.3 L1231.3,1197.0 L1232.5,1196.2 L1233.7,1197.2 L1234.9,1196.7 L1236.1,1196.1 L1237.3,1197.0 L1238.5,1197.2 L1239.7,1196.1 L1240.9,1196.1 L1242.1,1196.2 L1243.3,1196.6 L1244.5,1197.2 L1245.7,1197.0 L1246.9,1196.3 L1248.1,1195.9 L1249.3,1196.7 L1250.5,1196.7 L1251.7,1196.2 L1252.9,1196.8 L1254.1,1197.3 L1255.3,1196.2 L1256.5,1196.4 L1257.7,1197.2 L1258.9,1196.2 L1260.1,1196.2 L1261.3,1196.3 L1262.5,1197.2 L1263.7,1196.3 L1264.9,1196.2 L1266.1,1197.0 L1267.3,1197.2 L1268.5,1197.1 L1269.7,1196.7 L1270.9,1197.3 L1272.1,1196.2 L1273.3,1196.6 L1274.5,1196.4 L1275.7,1196.6 L1276.9,1196.1 L1278.1,1195.9 L1279.3,1197.0 L1280.5,1196.0 L1281.7,1196.2 L1282.9,1196.7 L1284.1,1195.8 L1285.3,1195.8 L1286.5,1196.0 L1287.7,1195.2 L1288.9,1195.0 L1290.1,1195.8 L1291.3,1195.3 L1292.5,1194.7 L1293.7,1194.9 L1294.9,1195.3 L1296.1,1195.3 L1297.3,1194.7 L1298.5,1194.2 L1299.6,1194.8 L1300.8,1193.7 L1302.0,1194.3 L1303.2,1193.2 L1304.4,1194.1 L1305.5,1193.6 L1306.7,1193.0 L1307.9,1192.6 L1309.1,1192.6 L1310.2,1192.5 L1311.4,1192.1 L1312.6,1192.0 L1313.8,1190.9 L1315.0,1191.2 L1316.1,1191.4 L1317.3,1190.8 L1318.5,1191.3 L1319.7,1190.6 L1320.9,1190.1 L1322.1,1190.7 L1323.3,1189.9 L1324.5,1190.0 L1325.7,1190.0 L1326.9,1190.1 L1328.0,1189.1 L1329.2,1189.9 L1330.4,1189.4 L1331.6,1189.0 L1332.8,1188.8 L1334.0,1189.7 L1335.2,1189.5 L1336.4,1188.9 L1337.6,1188.5 L1338.8,1189.3 L1340.0,1187.9 L1341.2,1187.9 L1342.4,1188.5 L1343.6,1188.5 L1344.8,1187.7 L1346.0,1187.9 L1347.2,1187.7 L1348.4,1187.9 L1349.6,1187.8 L1350.8,1187.7 L1352.0,1187.7 L1353.2,1188.1 L1354.4,1187.7 L1355.6,1188.6 L1356.8,1188.1 L1358.0,1187.7 L1359.2,1188.5 L1360.4,1188.7 L1361.6,1188.1 L1362.8,1187.6 L1364.0,1188.6 L1365.2,1188.7 L1366.4,1188.9 L1367.6,1188.7 L1368.8,1188.6 L1370.0,1188.3 L1371.2,1188.3 L1372.4,1188.1 L1373.6,1189.2 L1374.8,1188.9 L1376.0,1188.6 L1377.2,1188.5 L1378.4,1188.8 L1379.6,1189.5 L1380.8,1188.9 L1382.0,1188.7 L1383.2,1189.2 L1384.4,1189.3 L1385.6,1189.8 L1386.8,1189.7 L1388.0,1189.6 L1389.2,1190.4 L1390.4,1190.2 L1391.6,1189.2 L1392.8,1189.4 L1394.0,1189.7 L1395.2,1189.2 L1396.4,1190.2 L1397.6,1190.2 L1398.8,1189.5 L1400.0,1190.4 L1401.2,1189.9 L1402.4,1189.4 L1403.6,1189.9 L1404.8,1190.0 L1406.0,1190.0 L1407.2,1190.4 L1408.4,1190.3 L1409.6,1189.5 L1410.8,1189.5 L1412.0,1188.9 L1413.2,1189.5 L1414.4,1189.1 L1415.6,1189.0 L1416.8,1189.9 L1418.0,1188.8 L1419.2,1188.9 L1420.4,1189.6 L1421.6,1189.4 L1422.8,1189.2 L1424.0,1189.7 L1425.2,1188.9 L1426.4,1188.8 L1427.6,1189.2 L1428.8,1188.6 L1430.0,1189.3 L1431.2,1189.6 L1432.4,1189.4 L1433.6,1189.4 L1434.8,1188.2 L1436.0,1188.6 L1437.3,1189.2 L1438.5,1189.1 L1439.7,1188.7 L1440.9,1188.7 L1442.1,1188.1 L1443.3,1188.1 L1444.5,1187.8 L1445.7,1188.9 L1446.9,1188.1 L1448.1,1189.0 L1449.2,1187.7 L1450.4,1188.8 L1451.6,1188.5 L1452.8,1187.8 L1454.0,1188.8 L1455.2,1188.9 L1456.4,1189.0 L1457.6,1189.1 L1458.8,1189.2 L1460.0,1189.4 L1461.2,1189.0 L1462.4,1189.9 L1463.6,1189.3 L1464.8,1189.1 L1466.0,1190.2 L1467.2,1189.3 L1468.4,1189.6 L1469.6,1190.0 L1470.8,1190.2 L1472.0,1189.5 L1473.2,1189.1 L1474.4,1189.9 L1475.6,1189.9 L1476.8,1190.1 L1478.0,1189.4 L1479.2,1190.2 L1480.4,1190.1 L1481.6,1190.2 L1482.8,1190.0 L1484.0,1189.9 L1485.2,1189.7 L1486.4,1190.1 L1487.6,1189.1 L1488.8,1189.7 L1490.0,1189.8 L1491.2,1189.8 L1492.4,1188.8 L1493.6,1189.0 L1494.8,1189.8 L1496.0,1189.6 L1497.2,1188.7 L1498.4,1189.1 L1499.6,1189.5 L1500.8,1189.6 L1502.0,1189.1 L1503.2,1188.5 L1504.4,1188.6 L1505.6,1188.3 L1506.8,1188.5 L1508.0,1188.3 L1509.2,1189.2 L1510.4,1189.2 L1511.6,1188.8 L1512.8,1189.4 L1514.0,1188.4 L1515.2,1188.4 L1516.4,1189.0 L1517.6,1188.8 L1518.8,1188.2 L1520.0,1189.3 L1521.2,1188.9 L1522.4,1188.8 L1523.6,1188.5 L1524.8,1188.8 L1526.0,1188.0 L1527.2,1188.3 L1528.4,1188.7 L1529.6,1188.6 L1530.8,1188.4 L1532.0,1187.7 L1533.2,1188.1 L1534.4,1188.9 L1535.6,1188.8 L1536.8,1188.6 L1538.0,1187.5 L1539.2,1187.5 L1540.4,1187.6 L1541.6,1188.4 L1542.8,1187.5 L1544.0,1187.4 L1545.2,1187.4 L1546.4,1188.0 L1547.6,1187.7 L1548.8,1188.1 L1550.0,1186.9 L1551.2,1186.8 L1552.4,1187.9 L1553.6,1186.8 L1554.8,1187.6 L1556.0,1187.4 L1557.2,1186.8 L1558.4,1186.8 L1559.6,1187.4 L1560.8,1186.3 L1562.0,1187.6 L1563.2,1186.3 L1564.4,1186.4 L1565.6,1187.0 L1566.8,1186.2 L1568.0,1187.4 L1569.2,1186.5 L1570.4,1185.9 L1571.6,1186.0 L1572.8,1186.5 L1574.0,1186.9 L1575.2,1186.0 L1576.4,1186.1 L1577.6,1186.3 L1578.8,1186.3 L1580.0,1186.4 L1581.2,1185.8 L1582.4,1185.8 L1583.6,1186.4 L1584.8,1186.4 L1586.0,1185.7 L1587.2,1186.4 L1588.4,1185.2 L1589.6,1186.1 L1590.8,1186.1 L1592.0,1185.6 L1593.2,1185.7 L1594.4,1184.8 L1595.6,1185.8 L1596.8,1185.5 L1598.0,1185.3 L1599.2,1185.3 L1600.4,1184.6 L1601.6,1185.5 L1602.8,1185.1 L1604.0,1185.1 L1605.2,1184.5 L1606.4,1185.1 L1607.6,1184.5 L1608.8,1185.2 L1610.0,1184.1 L1611.2,1184.2 L1612.4,1184.3 L1613.6,1184.5 L1614.8,1185.1 L1616.0,1183.9 L1617.2,1184.6 L1618.4,1183.9 L1619.6,1184.3 L1620.8,1184.2 L1622.0,1183.9 L1623.2,1184.3 L1624.4,1184.1 L1625.6,1183.9 L1626.8,1184.4 L1628.0,1183.8 L1629.2,1184.8 L1630.4,1183.7 L1631.6,1184.7 L1632.8,1183.5 L1634.0,1184.5 L1635.2,1183.2 L1636.4,1183.1 L1637.6,1183.1 L1638.8,1183.9 L1640.0,1183.1 L1641.2,1183.1 L1642.4,1183.5 L1643.6,1182.5 L1644.8,1183.1 L1646.0,1182.7 L1647.2,1182.3 L1648.4,1183.2 L1649.6,1182.3 L1650.8,1182.1 L1652.0,1182.5 L1653.2,1182.6 L1654.4,1181.7 L1655.6,1181.4 L1656.8,1182.5 L1658.0,1181.7 L1659.1,1181.8 L1660.3,1181.7 L1661.5,1182.2 L1662.7,1181.6 L1663.9,1182.1 L1665.1,1181.8 L1666.4,1181.2 L1667.6,1181.8 L1668.8,1182.3 L1670.0,1181.9 L1671.2,1181.8 L1672.4,1181.3 L1673.6,1182.3 L1674.8,1182.0 L1676.0,1182.0 L1677.2,1182.1 L1678.4,1182.3 L1679.6,1182.2 L1680.8,1182.3 L1681.9,1182.6 L1683.1,1182.1 L1684.3,1182.5 L1685.5,1183.0 L1686.7,1183.7 L1687.9,1183.3 L1689.1,1183.6 L1690.3,1184.3 L1691.5,1184.3 L1692.7,1184.3 L1693.9,1184.4 L1695.1,1184.5 L1696.2,1184.1 L1697.4,1184.2 L1698.6,1184.2 L1699.8,1184.4 L1701.0,1185.2 L1702.2,1185.3 L1703.4,1184.6 L1704.6,1185.8 L1705.8,1185.3 L1707.0,1185.5 L1708.2,1184.9 L1709.4,1186.1 L1710.6,1185.0 L1711.8,1185.3 L1713.0,1185.7 L1714.2,1185.7 L1715.4,1185.8 L1716.6,1186.4 L1717.8,1185.1 L1719.0,1186.0 L1720.2,1185.7 L1721.4,1186.2 L1722.6,1186.0 L1723.8,1186.1 L1725.0,1186.2 L1726.2,1186.0 L1727.4,1185.0 L1728.6,1185.5 L1729.8,1185.8 L1731.0,1185.7 L1732.2,1185.8 L1733.4,1184.9 L1734.6,1184.2 L1735.8,1185.1 L1737.0,1184.3 L1738.2,1184.7 L1739.4,1183.7 L1740.5,1184.0 L1741.7,1184.2 L1742.9,1183.3 L1744.1,1183.4 L1745.3,1183.0 L1746.5,1183.9 L1747.7,1183.5 L1748.9,1183.2 L1750.1,1182.8 L1751.3,1183.3 L1752.5,1182.2 L1753.7,1182.7 L1754.8,1181.6 L1756.0,1182.2 L1757.2,1181.5 L1758.4,1181.1 L1759.6,1182.2 L1760.8,1181.1 L1762.0,1182.0 L1763.2,1181.4 L1764.4,1181.2 L1765.6,1181.1 L1766.7,1181.3 L1767.9,1180.1 L1769.1,1181.0 L1770.3,1179.9 L1771.5,1179.4 L1772.7,1180.5 L1773.9,1179.1 L1775.1,1179.5 L1776.3,1179.9 L1777.5,1178.9 L1778.7,1179.4 L1779.8,1179.1 L1781.0,1179.0 L1782.2,1178.1 L1783.4,1178.7 L1784.6,1178.8 L1785.8,1177.6 L1787.0,1178.6 L1788.2,1178.5 L1789.4,1177.4 L1790.6,1178.2 L1791.8,1178.0 L1792.9,1176.7 L1794.1,1177.4 L1795.3,1177.6 L1796.5,1177.2 L1797.7,1176.1 L1798.9,1176.4 L1800.1,1176.4 L1801.3,1176.0 L1802.5,1175.9 L1803.7,1175.4 L1804.9,1175.1 L1806.1,1175.4 L1807.3,1175.4 L1808.4,1175.5 L1809.6,1175.9 L1810.8,1174.5 L1812.0,1174.7 L1813.2,1175.3 L1814.4,1175.1 L1815.6,1174.0 L1816.8,1174.7 L1818.0,1173.7 L1819.2,1174.8 L1820.4,1173.8 L1821.6,1174.2 L1822.8,1173.9 L1824.0,1173.9 L1825.2,1173.4 L1826.4,1173.5 L1827.6,1173.4 L1828.8,1173.8 L1830.0,1173.4 L1831.2,1173.6 L1832.4,1173.5 L1833.6,1173.7 L1834.8,1174.1 L1836.0,1173.5 L1837.2,1173.6 L1838.4,1173.7 L1839.6,1173.7 L1840.8,1173.7 L1842.0,1173.6 L1843.2,1174.1 L1844.3,1173.9 L1845.5,1174.7 L1846.7,1175.2 L1847.9,1175.3 L1849.1,1175.4 L1850.3,1174.8 L1851.5,1174.7 L1852.7,1175.1 L1853.9,1175.7 L1855.1,1175.2 L1856.3,1175.3 L1857.5,1176.6 L1858.6,1175.8 L1859.8,1175.4 L1861.0,1176.1 L1862.2,1176.5 L1863.4,1176.2 L1864.6,1175.8 L1865.8,1176.3 L1867.0,1175.8 L1868.2,1176.7 L1869.5,1177.1 L1870.7,1175.9 L1871.9,1176.6 L1873.1,1177.0 L1874.3,1176.8 L1875.5,1176.2 L1876.7,1176.1 L1877.9,1176.7 L1879.1,1176.2 L1880.3,1177.4 L1881.5,1177.0 L1882.7,1176.8 L1883.9,1177.5 L1885.1,1176.8 L1886.3,1177.2 L1887.5,1177.3 L1888.7,1176.8 L1889.9,1177.8 L1891.1,1177.7 L1892.3,1177.1 L1893.5,1177.5 L1894.7,1177.4 L1895.9,1178.3 L1897.0,1178.0 L1898.2,1178.5 L1899.4,1178.3 L1900.6,1178.4 L1901.8,1177.8 L1903.0,1178.7 L1904.2,1178.0 L1905.4,1178.8 L1906.6,1178.8 L1907.8,1178.6 L1909.0,1178.2 L1910.2,1179.0 L1911.4,1179.1 L1912.6,1179.3 L1913.8,1178.6 L1915.0,1179.0 L1916.2,1179.6 L1917.4,1180.1 L1918.6,1179.4 L1919.8,1180.5 L1920.9,1180.8 L1922.1,1179.7 L1923.3,1180.7 L1924.5,1180.4 L1925.7,1180.2 L1926.9,1180.5 L1928.1,1180.9 L1929.3,1180.6 L1930.5,1181.7 L1931.6,1181.6 L1932.8,1181.7 L1934.0,1182.6 L1935.2,1183.0 L1936.4,1182.5 L1937.5,1182.5 L1938.7,1183.1 L1939.9,1183.1 L1941.1,1184.0 L1942.3,1183.4 L1943.4,1183.4 L1944.6,1183.5 L1945.8,1183.9 L1947.0,1184.0 L1948.2,1185.4 L1949.3,1185.2 L1950.5,1185.3 L1951.7,1186.0 L1952.9,1185.7 L1954.1,1186.0 L1955.3,1185.4 L1956.5,1185.8 L1957.7,1186.4 L1958.9,1186.9 L1960.1,1186.3 L1961.2,1186.7 L1962.4,1186.6 L1963.6,1186.8 L1964.8,1187.4 L1966.0,1188.0 L1967.2,1188.2 L1968.4,1187.8 L1969.6,1187.1 L1970.8,1187.6 L1972.0,1188.2 L1973.2,1188.6 L1974.4,1187.6 L1975.6,1188.6 L1976.8,1188.7 L1978.0,1187.5 L1979.2,1188.6 L1980.4,1188.1 L1981.6,1188.4 L1982.8,1188.1 L1984.0,1187.9 L1985.2,1188.1 L1986.4,1187.8 L1987.6,1187.2 L1988.8,1187.0 L1990.0,1187.7 L1991.1,1186.6 L1992.3,1186.6 L1993.5,1186.1 L1994.7,1186.2 L1995.9,1186.3 L1997.1,1185.6 L1998.3,1185.8 L1999.5,1185.9 L2000.7,1185.5 L2001.9,1185.9 L2003.1,1185.6 L2004.3,1185.4 L2005.5,1186.1 L2006.6,1186.1 L2007.8,1186.2 L2009.0,1186.0 L2010.2,1187.5 L2011.3,1186.6 L2012.5,1187.2 L2013.7,1187.6" stroke="#ff0000" stroke-width="9.5"/>
<path class="c" d="M273.5,1466.5 L273.7,1465.0 L273.8,1463.4 L273.9,1463.7 L274.1,1463.1 L274.2,1460.9 L274.3,1461.1 L274.5,1458.4 L274.6,1458.6 L274.8,1455.5 L275.0,1456.0 L275.2,1455.4 L275.4,1452.9 L275.7,1453.1 L276.0,1451.5 L276.3,1449.8 L276.6,1448.1 L277.0,1448.5 L277.3,1446.8 L277.7,1446.2 L278.1,1444.4 L278.6,1442.9 L279.0,1442.1 L279.4,1442.3 L279.9,1440.1 L280.3,1439.5 L280.8,1439.1 L281.2,1437.4 L281.6,1436.8 L282.0,1435.7 L282.5,1435.5 L282.9,1433.6 L283.3,1432.3 L283.7,1432.9 L284.1,1430.0 L284.5,1430.0 L284.9,1429.0 L285.3,1427.3 L285.7,1427.2 L286.1,1426.2 L286.5,1424.5 L286.9,1423.1 L287.3,1421.7 L287.8,1422.4 L288.2,1421.6 L288.7,1419.0 L289.1,1418.1 L289.6,1417.9 L290.1,1417.2 L290.6,1416.4 L291.1,1415.2 L291.7,1414.0 L292.2,1412.9 L292.7,1410.6 L293.3,1410.7 L293.8,1410.3 L294.4,1408.4 L295.0,1407.4 L295.7,1406.8 L296.3,1406.2 L297.0,1404.1 L297.6,1404.9 L298.3,1404.0 L299.1,1402.0 L299.8,1401.3 L300.6,1400.4 L301.5,1400.2 L302.3,1400.8 L303.3,1398.9 L304.2,1399.5 L305.1,1397.2 L306.1,1396.8 L307.1,1396.9 L308.0,1395.5 L309.0,1394.9 L309.9,1395.6 L310.9,1394.4 L311.9,1394.7 L312.9,1393.1 L313.9,1392.8 L314.9,1393.7 L315.9,1392.5 L316.9,1390.9 L317.8,1391.1 L318.8,1389.8 L319.8,1389.2 L320.7,1389.8 L321.7,1388.3 L322.7,1388.0 L323.6,1387.1 L324.6,1386.6 L325.5,1386.9 L326.5,1385.7 L327.5,1385.5 L328.4,1385.2 L329.4,1384.1 L330.3,1383.4 L331.3,1382.9 L332.2,1384.2 L333.2,1382.3 L334.2,1382.0 L335.1,1382.1 L336.1,1381.6 L337.1,1380.9 L338.0,1380.8 L339.0,1379.5 L340.0,1378.1 L340.9,1378.6 L341.9,1377.7 L342.9,1378.0 L343.8,1376.2 L344.8,1376.6 L345.8,1374.6 L346.7,1374.9 L347.7,1374.3 L348.7,1373.2 L349.7,1374.3 L350.6,1373.8 L351.6,1372.0 L352.6,1372.5 L353.5,1372.4 L354.5,1371.2 L355.5,1370.2 L356.5,1370.4 L357.4,1369.2 L358.4,1369.1 L359.4,1368.7 L360.3,1367.4 L361.3,1367.7 L362.3,1366.8 L363.2,1366.5 L364.2,1365.3 L365.2,1365.8 L366.1,1363.9 L367.1,1364.1 L368.1,1363.7 L369.1,1362.0 L370.0,1363.3 L371.0,1362.3 L372.0,1360.7 L373.0,1361.9 L374.0,1361.1 L375.0,1361.1 L376.0,1360.1 L377.0,1359.3 L378.0,1359.4 L379.0,1358.0 L380.0,1357.7 L381.0,1357.1 L382.0,1356.6 L383.0,1357.5 L384.0,1356.1 L385.0,1355.6 L386.0,1354.9 L387.0,1354.3 L388.0,1353.7 L389.1,1354.9 L390.1,1353.9 L391.1,1352.9 L392.1,1352.7 L393.1,1352.8 L394.1,1351.3 L395.1,1350.6 L396.1,1350.6 L397.1,1350.1 L398.1,1350.5 L399.1,1350.2 L400.1,1349.7 L401.1,1348.8 L402.1,1348.0 L403.1,1346.7 L404.1,1348.0 L405.1,1347.4 L406.1,1346.2 L407.2,1346.3 L408.2,1346.2 L409.2,1344.4 L410.2,1344.5 L411.2,1345.0 L412.2,1342.9 L413.2,1342.3 L414.3,1343.7 L415.3,1343.1 L416.3,1340.8 L417.3,1341.6 L418.4,1341.4 L419.4,1341.1 L420.4,1340.5 L421.4,1340.0 L422.5,1339.7 L423.5,1339.3 L424.5,1337.7 L425.5,1337.5 L426.6,1337.3 L427.6,1338.4 L428.6,1337.0 L429.7,1336.9 L430.7,1337.3 L431.7,1335.0 L432.8,1334.8 L433.8,1334.6 L434.8,1335.7 L435.9,1334.8 L436.9,1333.1 L437.9,1332.6 L439.0,1332.4 L440.0,1333.8 L441.0,1332.3 L442.1,1332.9 L443.1,1332.5 L444.2,1332.4 L445.2,1331.1 L446.2,1330.1 L447.3,1330.3 L448.3,1330.8 L449.4,1330.5 L450.4,1328.9 L451.4,1328.7 L452.5,1329.1 L453.5,1327.8 L454.6,1327.1 L455.6,1326.8 L456.6,1326.9 L457.7,1326.0 L458.7,1326.9 L459.8,1326.3 L460.8,1326.6 L461.9,1325.8 L462.9,1324.8 L464.0,1323.8 L465.0,1323.6 L466.1,1324.8 L467.1,1323.9 L468.2,1322.4 L469.3,1323.0 L470.3,1323.3 L471.4,1323.0 L472.4,1322.8 L473.5,1322.7 L474.6,1321.4 L475.6,1321.5 L476.7,1319.9 L477.7,1320.9 L478.8,1320.3 L479.9,1319.3 L480.9,1319.1 L482.0,1319.9 L483.1,1318.5 L484.1,1318.5 L485.2,1318.3 L486.3,1318.9 L487.3,1317.3 L488.4,1316.8 L489.5,1316.7 L490.5,1317.7 L491.6,1315.9 L492.7,1316.8 L493.8,1316.4 L494.8,1315.8 L495.9,1315.5 L497.0,1315.6 L498.0,1314.3 L499.1,1314.6 L500.1,1314.5 L501.2,1313.5 L502.2,1314.1 L503.3,1313.3 L504.4,1312.4 L505.4,1312.2 L506.5,1312.3 L507.5,1312.7 L508.6,1312.7 L509.6,1311.7 L510.7,1310.3 L511.7,1311.2 L512.7,1311.6 L513.8,1309.3 L514.8,1309.6 L515.9,1308.5 L517.0,1309.5 L518.0,1308.1 L519.1,1309.7 L520.1,1308.1 L521.2,1308.3 L522.2,1307.3 L523.3,1307.0 L524.3,1305.9 L525.4,1307.6 L526.4,1305.9 L527.5,1305.5 L528.5,1305.4 L529.6,1304.7 L530.7,1304.7 L531.7,1304.3 L532.8,1305.6 L533.8,1305.1 L534.9,1303.4 L536.0,1304.4 L537.0,1302.3 L538.1,1303.2 L539.2,1303.6 L540.2,1301.9 L541.3,1301.5 L542.4,1302.7 L543.4,1302.1 L544.5,1302.6 L545.6,1300.4 L546.7,1300.2 L547.7,1299.7 L548.8,1300.0 L549.9,1299.1 L550.9,1300.2 L552.0,1298.7 L553.1,1299.3 L554.2,1299.1 L555.2,1297.9 L556.3,1299.0 L557.4,1299.4 L558.4,1297.8 L559.5,1297.8 L560.6,1297.2 L561.6,1298.3 L562.7,1297.7 L563.8,1297.7 L564.8,1296.1 L565.9,1295.7 L567.0,1294.8 L568.1,1294.6 L569.1,1296.4 L570.2,1295.3 L571.3,1294.7 L572.3,1293.8 L573.4,1295.3 L574.5,1293.0 L575.6,1294.2 L576.6,1293.8 L577.7,1293.9 L578.8,1293.7 L579.9,1293.3 L581.0,1292.8 L582.0,1292.3 L583.1,1293.0 L584.2,1291.0 L585.3,1291.2 L586.3,1292.3 L587.4,1292.4 L588.5,1291.5 L589.6,1289.5 L590.7,1291.6 L591.7,1291.8 L592.8,1290.0 L593.9,1289.6 L595.0,1289.2 L596.1,1289.8 L597.1,1288.1 L598.2,1287.7 L599.3,1290.6 L600.4,1288.6 L601.5,1288.4 L602.5,1287.4 L603.6,1286.1 L604.7,1285.9 L605.8,1285.7 L606.9,1288.2 L608.0,1288.3 L609.0,1288.9 L610.1,1288.9 L611.2,1284.9 L612.3,1284.1 L613.4,1287.1 L614.5,1285.0 L615.6,1287.9 L616.7,1285.6 L617.7,1285.2 L618.8,1284.9 L619.9,1284.1 L621.0,1285.3 L622.1,1283.1 L623.2,1287.3 L624.3,1286.2 L625.4,1286.3 L626.5,1286.7 L627.6,1285.1 L628.7,1286.2 L629.7,1285.1 L630.8,1283.3 L631.9,1280.4 L633.0,1283.3 L634.1,1283.2 L635.2,1284.3 L636.3,1285.0 L637.4,1283.3 L638.5,1279.6 L639.6,1279.5 L640.7,1284.6 L641.7,1284.5 L642.8,1281.1 L643.9,1278.6 L645.0,1278.8 L646.1,1278.7 L647.2,1284.4 L648.3,1280.6 L649.4,1280.9 L650.5,1283.5 L651.6,1279.1 L652.7,1281.2 L653.8,1281.5 L654.9,1280.2 L656.0,1277.8 L657.1,1280.1 L658.2,1277.6 L659.3,1279.2 L660.4,1279.8 L661.5,1278.0 L662.6,1284.7 L663.7,1282.1 L664.8,1284.1 L665.9,1284.1 L667.0,1278.5 L668.2,1277.2 L669.3,1284.6 L670.4,1280.3 L671.5,1281.8 L672.6,1283.5 L673.7,1278.7 L674.8,1281.0 L675.9,1278.2 L677.0,1277.4 L678.1,1275.6 L679.2,1277.5 L680.3,1277.6 L681.4,1282.4 L682.5,1280.2 L683.6,1282.7 L684.7,1277.8 L685.8,1277.1 L686.9,1280.8 L688.0,1277.6 L689.1,1282.6 L690.2,1278.8 L691.3,1277.7 L692.4,1282.7 L693.5,1276.8 L694.6,1282.4 L695.7,1278.9 L696.8,1275.7 L697.9,1281.4 L699.0,1281.2 L700.1,1275.9 L701.2,1279.7 L702.3,1279.7 L703.4,1282.3 L704.5,1276.9 L705.6,1280.6 L706.7,1285.1 L707.8,1274.9 L708.9,1282.1 L710.0,1278.3 L711.1,1279.6 L712.2,1277.4 L713.3,1279.2 L714.4,1279.5 L715.5,1283.8 L716.7,1283.2 L717.8,1283.7 L718.9,1284.0 L720.0,1278.0 L721.1,1281.9 L722.2,1283.0 L723.3,1274.9 L724.4,1281.2 L725.5,1279.6 L726.6,1275.6 L727.7,1280.1 L728.8,1280.7 L729.9,1280.3 L731.0,1273.6 L732.1,1283.2 L733.2,1277.3 L734.3,1282.0 L735.4,1275.3 L736.5,1280.1 L737.6,1274.5 L738.7,1279.8 L739.8,1280.8 L740.9,1278.2 L742.0,1281.7 L743.1,1279.3 L744.2,1275.0 L745.3,1274.9 L746.4,1275.1 L747.5,1278.2 L748.6,1284.4 L749.7,1278.2 L750.8,1283.3 L751.9,1281.5 L753.0,1282.1 L754.1,1281.6 L755.2,1276.9 L756.3,1283.8 L757.4,1279.1 L758.5,1284.4 L759.6,1274.8 L760.7,1275.8 L761.8,1276.0 L762.9,1282.1 L764.0,1275.6 L765.1,1278.9 L766.2,1279.7 L767.3,1279.6 L768.4,1277.3 L769.5,1283.4 L770.6,1278.9 L771.7,1276.0 L772.8,1279.9 L773.9,1275.3 L775.0,1281.1 L776.1,1275.9 L777.2,1283.4 L778.3,1275.0 L779.4,1277.4 L780.5,1276.5 L781.6,1280.2 L782.7,1278.5 L783.8,1279.0 L784.9,1279.1 L786.0,1280.8 L787.1,1277.2 L788.2,1277.9 L789.3,1277.3 L790.4,1276.1 L791.6,1281.2 L792.7,1284.4 L793.8,1284.2 L794.9,1284.8 L796.0,1275.9 L797.1,1282.3 L798.2,1275.6 L799.3,1283.3 L800.4,1283.6 L801.5,1279.7 L802.6,1285.0 L803.7,1279.5 L804.8,1280.3 L805.9,1278.2 L807.0,1283.1 L808.1,1280.4 L809.2,1279.7 L810.3,1278.9 L811.4,1282.3 L812.5,1275.1 L813.6,1280.9 L814.7,1275.1 L815.8,1276.5 L816.9,1274.6 L818.0,1279.6 L819.1,1284.0 L820.2,1276.3 L821.3,1275.3 L822.4,1279.5 L823.5,1274.2 L824.6,1277.6 L825.7,1278.6 L826.8,1274.8 L827.9,1283.2 L829.0,1277.9 L830.1,1280.0 L831.2,1275.0 L832.3,1283.9 L833.4,1275.7 L834.5,1278.6 L835.6,1274.7 L836.7,1275.4 L837.8,1275.1 L838.9,1277.7 L840.1,1274.6 L841.2,1278.5 L842.3,1279.4 L843.4,1275.5 L844.5,1281.4 L845.6,1274.2 L846.7,1279.3 L847.8,1281.7 L848.9,1279.6 L850.0,1273.2 L851.1,1273.8 L852.2,1273.4 L853.3,1274.2 L854.4,1278.3 L855.5,1282.7 L856.6,1276.5 L857.7,1280.7 L858.8,1275.3 L859.9,1282.5 L861.0,1276.3 L862.1,1274.2 L863.2,1274.1 L864.3,1273.2 L865.4,1272.8 L866.5,1281.5 L867.6,1279.3 L868.7,1273.2 L869.8,1277.9 L870.9,1276.4 L872.0,1272.2 L873.1,1281.6 L874.2,1273.7 L875.3,1277.1 L876.4,1274.8 L877.4,1276.1 L878.5,1281.2 L879.6,1278.8 L880.7,1273.2 L881.8,1278.0 L882.9,1275.4 L884.0,1273.0 L885.1,1276.3 L886.3,1272.8 L887.4,1278.8 L888.5,1273.4 L889.6,1271.3 L890.7,1279.2 L891.8,1272.0 L892.9,1277.6 L894.0,1279.3 L895.1,1277.8 L896.2,1280.1 L897.3,1273.1 L898.4,1274.2 L899.5,1276.9 L900.6,1271.5 L901.7,1280.6 L902.8,1277.2 L903.9,1277.5 L905.0,1276.5 L906.1,1275.7 L907.2,1272.5 L908.3,1271.7 L909.4,1273.3 L910.5,1270.9 L911.6,1277.2 L912.7,1272.6 L913.8,1280.3 L914.9,1271.9 L916.0,1274.2 L917.1,1279.8 L918.2,1277.4 L919.3,1275.3 L920.4,1278.7 L921.5,1275.3 L922.6,1272.8 L923.7,1281.4 L924.8,1280.3 L925.9,1279.0 L927.0,1274.3 L928.1,1276.7 L929.2,1272.4 L930.3,1272.0 L931.4,1281.5 L932.5,1276.1 L933.6,1274.1 L934.7,1280.1 L935.8,1277.4 L936.9,1278.9 L938.0,1273.3 L939.1,1276.9 L940.2,1276.6 L941.3,1275.5 L942.4,1274.4 L943.5,1281.7 L944.6,1280.4 L945.7,1278.6 L946.8,1275.7 L947.9,1279.5 L949.0,1277.3 L950.1,1273.1 L951.2,1279.5 L952.3,1280.0 L953.5,1283.1 L954.6,1281.7 L955.7,1274.0 L956.8,1276.6 L957.8,1273.9 L958.9,1274.4 L960.0,1278.9 L961.0,1276.5 L962.1,1275.3 L963.1,1281.6 L964.1,1285.1 L965.1,1284.6 L966.1,1277.1 L967.1,1280.2 L968.0,1278.1 L968.8,1282.8 L969.7,1288.8 L970.5,1281.8 L971.3,1288.2 L972.1,1286.6 L972.9,1287.6 L973.6,1291.7 L974.4,1287.1 L975.1,1288.0 L975.8,1293.2 L976.5,1287.8 L977.1,1288.4 L977.8,1292.4 L978.5,1294.2" stroke="#00ff00" stroke-width="9.5"/>
<path class="c" d="M277.0,1466.5 L277.3,1464.2 L277.6,1465.8 L277.8,1462.5 L278.1,1460.9 L278.4,1461.8 L278.7,1460.9 L279.1,1459.1 L279.6,1459.2 L280.1,1454.5 L280.8,1454.9 L281.5,1455.5 L282.3,1455.3 L283.1,1451.0 L284.0,1452.5 L284.9,1449.3 L285.7,1449.3 L286.6,1450.0 L287.5,1449.3 L288.4,1445.4 L289.4,1445.5 L290.4,1447.9 L291.3,1445.4 L292.3,1444.8 L293.3,1442.6 L294.3,1442.8 L295.3,1441.3 L296.3,1440.1 L297.3,1440.0 L298.3,1440.6 L299.3,1439.8 L300.4,1439.2 L301.4,1437.8 L302.5,1437.6 L303.5,1438.9 L304.6,1438.5 L305.7,1437.9 L306.7,1434.4 L307.8,1435.6 L308.9,1435.6 L310.0,1433.2 L311.1,1433.3 L312.2,1434.5 L313.3,1433.3 L314.4,1433.0 L315.5,1429.7 L316.6,1429.1 L317.8,1431.4 L318.9,1430.5 L320.0,1428.3 L321.1,1427.1 L322.3,1427.7 L323.4,1429.0 L324.5,1427.4 L325.7,1428.3 L326.8,1425.7 L328.0,1427.5 L329.1,1424.7 L330.3,1427.8 L331.4,1424.6 L332.5,1423.1 L333.7,1426.2 L334.9,1423.8 L336.0,1423.8 L337.2,1422.3 L338.3,1422.3 L339.5,1422.9 L340.7,1422.1 L341.9,1422.8 L343.1,1421.5 L344.3,1422.1 L345.5,1420.1 L346.6,1422.0 L347.8,1422.2 L349.0,1423.3 L350.2,1422.2 L351.4,1419.2 L352.6,1420.2 L353.8,1421.6 L354.9,1421.1 L356.1,1417.9 L357.2,1417.4 L358.4,1419.1 L359.5,1418.5 L360.7,1416.8 L361.9,1417.0 L363.0,1417.0 L364.2,1418.6 L365.3,1416.0 L366.5,1418.1 L367.7,1418.0 L368.9,1415.1 L370.1,1417.6 L371.3,1414.0 L372.4,1415.1 L373.6,1413.7 L374.8,1414.5 L376.0,1414.2 L377.2,1416.2 L378.4,1416.3 L379.6,1414.0 L380.8,1413.9 L382.0,1416.5 L383.2,1412.8 L384.4,1414.0 L385.6,1414.3 L386.8,1414.4 L388.0,1412.1 L389.2,1412.6 L390.4,1411.7 L391.6,1414.2 L392.8,1413.9 L394.0,1414.2 L395.2,1412.3 L396.4,1410.3 L397.6,1414.1 L398.8,1410.4 L400.0,1410.8 L401.2,1409.8 L402.4,1411.2 L403.6,1412.4 L404.8,1413.3 L406.0,1411.4 L407.2,1409.3 L408.4,1412.6 L409.6,1409.0 L410.8,1409.4 L412.0,1409.3 L413.2,1412.1 L414.4,1409.9 L415.6,1411.8 L416.8,1410.4 L418.0,1410.0 L419.2,1411.2 L420.4,1408.6 L421.7,1408.8 L422.9,1411.5 L424.1,1410.0 L425.3,1408.9 L426.5,1409.9 L427.7,1410.3 L428.9,1410.0 L430.1,1409.0 L431.3,1409.3 L432.5,1407.5 L433.7,1408.4 L434.9,1410.0 L436.1,1410.0 L437.3,1406.0 L438.5,1406.9 L439.7,1406.8 L440.9,1406.9 L442.1,1406.7 L443.3,1406.4 L444.5,1407.2 L445.7,1406.0 L446.9,1408.0 L448.1,1404.8 L449.3,1408.8 L450.5,1405.3 L451.7,1408.3 L452.9,1407.2 L454.1,1408.0 L455.3,1405.9 L456.5,1405.4 L457.7,1406.5 L458.9,1404.6 L460.1,1405.6 L461.3,1406.0 L462.5,1404.1 L463.8,1407.1 L465.0,1405.5 L466.2,1405.8 L467.4,1406.4 L468.6,1407.4 L469.8,1404.0 L471.0,1404.2 L472.2,1403.9 L473.4,1407.6 L474.6,1405.2 L475.8,1406.5 L477.0,1404.0 L478.3,1407.4 L479.5,1403.8 L480.7,1406.3 L481.9,1403.4 L483.1,1407.1 L484.3,1405.5" stroke="#940080" stroke-width="9.5"/>
</g>
</svg></body></html>
